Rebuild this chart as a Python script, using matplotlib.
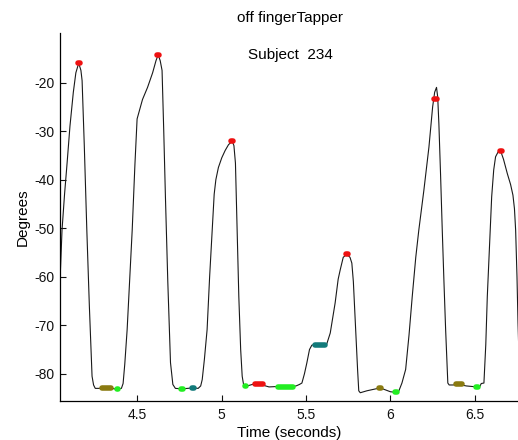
import matplotlib
matplotlib.use("Agg")
import matplotlib.pyplot as plt

plt.rcParams['font.family'] = ['Liberation Sans', 'DejaVu Sans']

# --- data ---
time_s = [4.030, 4.041, 4.053, 4.068, 4.083, 4.100, 4.120, 4.135, 4.152, 4.165, 4.172,
          4.185, 4.200, 4.215, 4.231, 4.240, 4.250, 4.300, 4.350, 4.380, 4.405, 4.415,
          4.425, 4.439, 4.455, 4.469, 4.485, 4.498, 4.510, 4.530, 4.560, 4.590, 4.610,
          4.623, 4.635, 4.646, 4.656, 4.666, 4.680, 4.696, 4.710, 4.725, 4.765, 4.800,
          4.830, 4.860, 4.875, 4.884, 4.897, 4.913, 4.928, 4.943, 4.955, 4.965, 4.980,
          5.000, 5.020, 5.040, 5.062, 5.072, 5.081, 5.091, 5.101, 5.112, 5.121, 5.131,
          5.141, 5.180, 5.210, 5.240, 5.280, 5.340, 5.410, 5.440, 5.460, 5.475, 5.490,
          5.504, 5.520, 5.534, 5.544, 5.585, 5.621, 5.635, 5.643, 5.660, 5.672, 5.690,
          5.702, 5.720, 5.741, 5.760, 5.771, 5.780, 5.791, 5.805, 5.812, 5.821, 5.860,
          5.900, 5.939, 5.970, 6.000, 6.032, 6.050, 6.068, 6.090, 6.110, 6.129, 6.150,
          6.168, 6.198, 6.228, 6.250, 6.262, 6.273, 6.280, 6.287, 6.297, 6.307, 6.317,
          6.327, 6.340, 6.348, 6.370, 6.404, 6.450, 6.512, 6.530, 6.538, 6.554, 6.565,
          6.574, 6.588, 6.600, 6.612, 6.623, 6.638, 6.653, 6.670, 6.693, 6.712, 6.726,
          6.735, 6.742, 6.750, 6.756, 6.765]
degrees = [-66.0, -61.0, -50.4, -43.0, -36.6, -29.0, -22.0, -18.0, -16.0, -17.5, -19.6,
           -33.0, -50.4, -66.0, -80.5, -82.3, -83.0, -83.0, -83.0, -83.2, -83.0, -82.0,
           -78.0, -70.9, -60.0, -50.4, -37.0, -27.5, -26.0, -23.5, -21.0, -18.0, -15.5,
           -14.3, -15.5, -17.5, -30.0, -43.6, -61.0, -77.7, -82.2, -83.0, -83.1, -83.0,
           -82.9, -83.0, -82.5, -81.2, -77.0, -70.9, -60.0, -50.4, -43.0, -40.0, -37.5,
           -35.5, -34.0, -32.8, -32.1, -33.0, -36.6, -50.0, -64.1, -75.0, -80.5, -82.6,
           -82.6, -82.2, -82.1, -82.3, -82.7, -82.6, -82.6, -82.5, -82.2, -81.9, -80.0,
           -77.8, -75.0, -74.1, -74.0, -74.0, -74.0, -72.5, -71.6, -68.0, -65.4, -60.5,
           -58.6, -56.0, -55.4, -56.0, -57.2, -61.0, -68.9, -79.1, -83.5, -83.9, -83.5,
           -83.2, -82.9, -83.3, -83.7, -83.8, -83.5, -81.9, -79.1, -72.0, -64.1, -56.0,
           -50.4, -42.2, -33.3, -25.0, -22.0, -21.0, -23.0, -28.5, -39.0, -50.4, -61.0,
           -70.9, -81.9, -82.3, -82.3, -82.2, -82.5, -82.7, -82.6, -82.0, -81.9, -74.0,
           -64.1, -53.0, -43.5, -38.0, -35.3, -34.3, -34.1, -35.8, -38.8, -41.0, -43.2,
           -46.0, -50.4, -60.0, -69.5, -80.0]

# event markers: (start time, end time, value)
red_start = [4.146, 4.617, 5.056, 5.735, 6.261, 6.647, 5.194]
red_end = [4.158, 4.629, 5.068, 5.747, 6.273, 6.659, 5.245]
red_val = [-16.0, -14.3, -32.1, -55.4, -23.3, -34.1, -82.1]

olive_start = [4.292, 5.933, 6.388]
olive_end = [4.345, 5.945, 6.422]
olive_val = [-82.9, -82.9, -82.2]

green_start = [4.376, 4.758, 5.140, 5.332, 6.027, 6.507]
green_end = [4.386, 4.772, 5.146, 5.420, 6.037, 6.517]
green_val = [-83.1, -83.1, -82.6, -82.7, -83.8, -82.7]

teal_start = [4.825, 5.550]
teal_end = [4.837, 5.614]
teal_val = [-82.9, -74.0]

x_ticks = [4.5, 5, 5.5, 6, 6.5]
x_tick_labels = ['4.5', '5', '5.5', '6', '6.5']
y_ticks = [-80, -70, -60, -50, -40, -30, -20]
y_tick_labels = ['-80', '-70', '-60', '-50', '-40', '-30', '-20']

# --- figure ---
W, H = 518, 440
fig = plt.figure(figsize=(W / 100, H / 100), dpi=100)
ax = fig.add_axes([60 / W, 1 - 401 / H, (W - 60) / W, (401 - 33) / H])

ax.plot(time_s, degrees, color='#1a1a1a', lw=0.8, zorder=2)

def draw_marks(starts, ends, vals, color):
    for t0, t1, v in zip(starts, ends, vals):
        ax.plot([t0, t1], [v, v], color=color, lw=4.0,
                solid_capstyle='round', zorder=3)

draw_marks(red_start, red_end, red_val, '#ee1111')
draw_marks(olive_start, olive_end, olive_val, '#8a7a10')
draw_marks(green_start, green_end, green_val, '#22ee22')
draw_marks(teal_start, teal_end, teal_val, '#127a7a')

ax.set_xlim(4.041, 6.756)
ax.set_ylim(-85.6, -9.8)
ax.set_xticks(x_ticks)
ax.set_xticklabels(x_tick_labels)
ax.set_yticks(y_ticks)
ax.set_yticklabels(y_tick_labels)
ax.tick_params(direction='in', length=4, width=0.8, labelsize=10, colors='#111111')
ax.tick_params(axis='x', pad=5)
ax.tick_params(axis='y', pad=4)
ax.spines['top'].set_visible(False)
ax.spines['right'].set_visible(False)
ax.spines['left'].set_linewidth(0.9)
ax.spines['bottom'].set_linewidth(0.9)

ax.set_xlabel('Time (seconds)', fontsize=11, labelpad=3)
ax.set_ylabel('Degrees', fontsize=11, labelpad=3)

fig.text(290 / W, 1 - 18 / H, 'off fingerTapper', ha='center', va='center', fontsize=11)
fig.text(290 / W, 1 - 55 / H, 'Subject  234', ha='center', va='center', fontsize=11)

fig.savefig('out.png', dpi=100)
